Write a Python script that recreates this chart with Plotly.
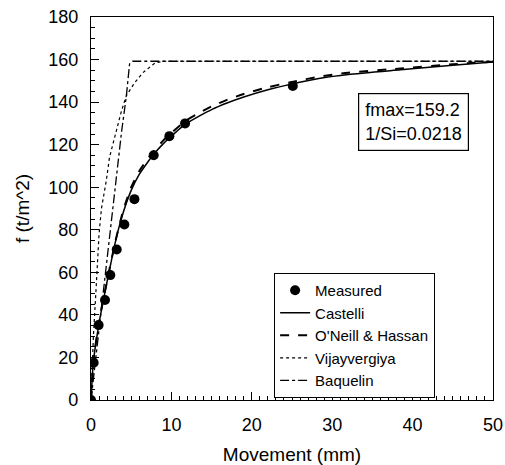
import plotly.graph_objects as go

# Measured data
meas_x = [0, 0.33, 0.95, 1.74, 2.4, 3.2, 4.15, 5.4, 7.8, 9.75, 11.7, 25.1]
meas_y = [0, 17.5, 35.2, 47, 58.7, 70.7, 82.5, 94.4, 115, 124, 130, 147.6]

# Model curves
cast_x = [0, 0.3, 1, 1.7, 2.4, 3.2, 4, 5, 6, 7, 7.8, 9, 10, 11.7, 13.5, 15, 17, 19, 22, 25, 28.5, 32, 38.5, 45, 50]
cast_y = [0, 18, 36, 50, 63, 77, 88, 98.5, 106, 111.5, 115.5, 120.5, 124, 129.5, 133.5, 136.5, 139.7, 142.4, 145.8, 148.5, 151.2, 153, 155.2, 157.3, 158.8]

oneill_x = [0, 0.3, 1, 2, 3, 4, 5, 6, 7, 7.8, 9, 10, 11.7, 13.5, 15, 17, 19, 22, 25, 28.5, 32, 38.5, 45, 50]
oneill_y = [0, 18, 37, 56, 74, 89, 100, 107.5, 113, 117, 122, 125.5, 131, 135, 138, 141.2, 143.8, 147, 149.5, 152, 153.8, 155.8, 157.8, 159]

vijay_x = [0, 0.15, 0.3, 0.6, 1.0, 1.3, 1.9, 2.3, 3.0, 3.8, 4.4, 5.4, 6.5, 8.0, 9.0, 50]
vijay_y = [0, 18, 30, 50, 78, 90, 103, 114, 124, 136, 143, 149, 154, 158.5, 159.2, 159.2]

baq_x = [0, 1, 2, 3, 3.8, 4.4, 4.6, 4.8, 5.2, 50]
baq_y = [0, 33, 66, 100, 126, 143, 152, 158, 159.2, 159.2]

x_ticks = [0, 10, 20, 30, 40, 50]
y_ticks = [0, 20, 40, 60, 80, 100, 120, 140, 160, 180]

FONT = "Liberation Sans, Arial, sans-serif"

fig = go.Figure()
fig.add_trace(go.Scatter(x=meas_x, y=meas_y, mode="markers", name="Measured",
                         marker=dict(color="black", size=10)))
fig.add_trace(go.Scatter(x=cast_x, y=cast_y, mode="lines", name="Castelli",
                         line=dict(color="black", width=1.5, shape="spline", smoothing=0.6)))
fig.add_trace(go.Scatter(x=oneill_x, y=oneill_y, mode="lines", name="O'Neill & Hassan",
                         line=dict(color="black", width=2, dash="dash", shape="spline", smoothing=0.6)))
fig.add_trace(go.Scatter(x=vijay_x, y=vijay_y, mode="lines", name="Vijayvergiya",
                         line=dict(color="black", width=1.2, dash="dot")))
fig.add_trace(go.Scatter(x=baq_x, y=baq_y, mode="lines", name="Baquelin",
                         line=dict(color="black", width=1.3, dash="dashdot")))

fig.add_annotation(xref="paper", yref="paper", x=0.802, y=0.727,
                   xanchor="center", yanchor="middle",
                   text="fmax=159.2<br>1/Si=0.0218", showarrow=False,
                   font=dict(family=FONT, size=18, color="black"),
                   bordercolor="black", borderwidth=1.2, borderpad=6,
                   bgcolor="white", align="left")

fig.update_layout(
    width=505, height=465,
    margin=dict(l=91, r=12, t=17, b=65, autoexpand=False),
    paper_bgcolor="white", plot_bgcolor="white",
    font=dict(family=FONT, size=16, color="black"),
    showlegend=True,
    legend=dict(x=0.455, y=0.332, xanchor="left", yanchor="top",
                bordercolor="black", borderwidth=1.2, bgcolor="white",
                font=dict(family=FONT, size=15, color="black"),
                tracegroupgap=0, itemwidth=30),
    xaxis=dict(range=[0, 50], tickvals=x_ticks, showgrid=False, zeroline=False,
               showline=True, linecolor="black", linewidth=1.3, mirror=True,
               ticks="inside", ticklen=8, tickcolor="black", automargin=False,
               minor=dict(dtick=1, ticks="inside", ticklen=4, tickcolor="black"),
               tickfont=dict(family=FONT, size=18), ticklabelstandoff=8,
               title=dict(text="Movement (mm)", font=dict(family=FONT, size=19), standoff=16)),
    yaxis=dict(range=[0, 180], tickvals=y_ticks, showgrid=False, zeroline=False,
               showline=True, linecolor="black", linewidth=1.3, mirror=True,
               ticks="inside", ticklen=8, tickcolor="black", automargin=False,
               minor=dict(dtick=5, ticks="inside", ticklen=4, tickcolor="black"),
               tickfont=dict(family=FONT, size=18), ticklabelstandoff=8,
               title=dict(text="f (t/m^2)", font=dict(family=FONT, size=19), standoff=13)),
)

fig.write_html("out.html")
